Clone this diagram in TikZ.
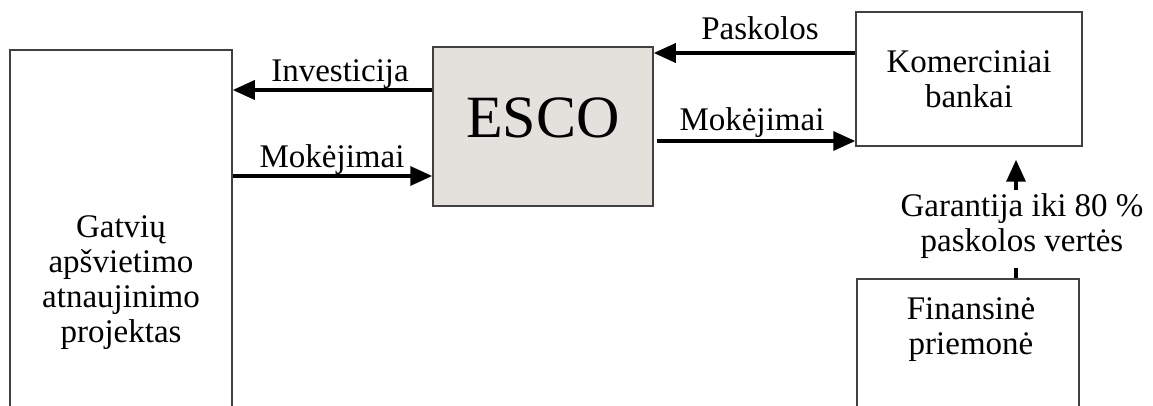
\documentclass[tikz,border=0pt]{standalone}
\usepackage{fontspec}
\setmainfont{Liberation Serif}
\usetikzlibrary{arrows.meta,calc}
\definecolor{escofill}{HTML}{E4E1DC}
\definecolor{boxline}{HTML}{404040}
\begin{document}
\begin{tikzpicture}[x=1pt,y=-1pt,
  every node/.style={font=\fontsize{33}{35}\selectfont, align=center},
  box/.style={draw=boxline, line width=1.5pt, inner sep=0pt},
  arr/.style={line width=3.5pt, -{Triangle[length=22pt,width=19pt]}},
  plain/.style={line width=3.5pt},
  lbl/.style={anchor=base, inner sep=0pt}]
\clip (0,0) rectangle (1153,406);
% boxes
\node[box, minimum width=222pt, minimum height=466pt] (proj) at (121,283)
  {Gatvių\\apšvietimo\\atnaujinimo\\projektas};
\node[box, fill=escofill, minimum width=220pt, minimum height=159pt, text depth=18pt,
  font=\fontsize{60}{64}\selectfont] (esco) at (543,126.5) {ESCO};
\node[box, minimum width=226pt, minimum height=134pt] (kom) at (969,79)
  {Komerciniai\\bankai};
\node[box, minimum width=222pt, minimum height=200pt, anchor=north] (fin) at (968,278) {};
\node[inner sep=0pt] (fintext) at (971,330) {Finansinė\\priemonė};
% arrows between ESCO and project
\draw[arr] (esco.west |- 0,90) -- (proj.east |- 0,90);
\draw[arr] (proj.east |- 0,176) -- (esco.west |- 0,176);
\node[lbl] (linv) at (340,82) {Investicija};
\node[lbl] (lmok1) at (332,168) {Mokėjimai};
% arrows between ESCO and banks
\draw[arr] (kom.west |- 0,53) -- (esco.east |- 0,53);
\draw[arr] ($(esco.east |- 0,141)+(3,0)$) -- (kom.west |- 0,141);
\node[lbl] (lpask) at (760,40) {Paskolos};
\node[lbl] (lmok2) at (752,131) {Mokėjimai};
% guarantee
\node[inner sep=3pt] (gar) at (1022,226) {Garantija iki 80 \%\\paskolos vertės};
\draw[plain] ($(gar.south -| 1016,0)+(0,6)$) -- (fin.north -| 1016,0);
\draw[arr] (gar.north -| 1016,0) -- ($(kom.south -| 1016,0)+(0,13)$);
\end{tikzpicture}
\end{document}
